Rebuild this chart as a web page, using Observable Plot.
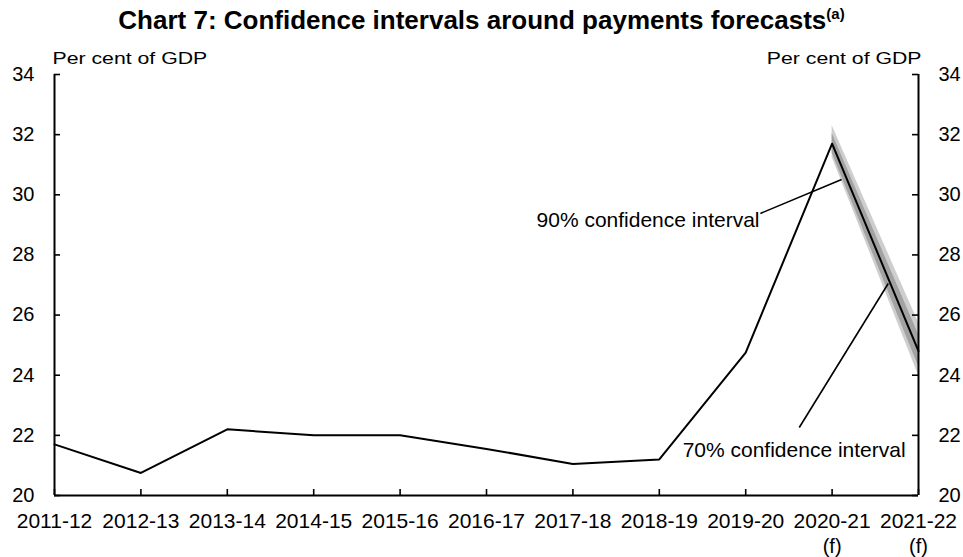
<!DOCTYPE html>
<html><head><meta charset="utf-8">
<script src="https://cdn.jsdelivr.net/npm/d3@7"></script>
<script src="https://cdn.jsdelivr.net/npm/@observablehq/plot@0.6"></script>
<style>
body{margin:0;background:#fff;}
#wrap{position:relative;width:963px;height:557px;font-family:"Liberation Sans",Arial,sans-serif;}
#title{position:absolute;top:0;left:0;width:963px;text-align:center;font-weight:bold;font-size:26px;line-height:26px;padding-top:7px;color:#000;z-index:2;}
#title sup{font-size:15px;line-height:0;vertical-align:10px;}
#wrap svg{position:absolute;top:0;left:0;}
</style></head><body>
<div id="wrap"><div id="title">Chart 7: Confidence intervals around payments forecasts<sup>(a)</sup></div></div>
<script>
const years = ["2011-12","2012-13","2013-14","2014-15","2015-16","2016-17","2017-18","2018-19","2019-20","2020-21","2021-22"];
const forecastFlags = ["","","","","","","","","","(f)","(f)"];
const payments = [21.7, 20.75, 22.2, 22.0, 22.0, 21.55, 21.05, 21.2, 24.75, 31.7, 24.8];
const bandIndex = [9, 10];
const ci90Low = [31.25, 24.0];
const ci90High = [32.3, 25.75];
const ci70Low = [31.4, 24.3];
const ci70High = [32.05, 25.35];
const yTicks = [20, 22, 24, 26, 28, 30, 32, 34];
const unitLabel = "Per cent of GDP";
const label90 = "90% confidence interval";
const label70 = "70% confidence interval";
const label90At = {x: 8.16, y: 29.15};
const label70At = {x: 7.27, y: 21.5};
const leaderX1 = [8.17, 8.62];
const leaderY1 = [29.38, 22.26];
const leaderX2 = [9.11, 9.65];
const leaderY2 = [30.51, 27.05];

const idx = years.map((_, i) => i);
const lineData = payments.map((v, i) => ({i, v}));
const band90 = bandIndex.map((i, k) => ({i, lo: ci90Low[k], hi: ci90High[k]}));
const band70 = bandIndex.map((i, k) => ({i, lo: ci70Low[k], hi: ci70High[k]}));
const leaders = leaderX1.map((x1, k) => ({x1, y1: leaderY1[k], x2: leaderX2[k], y2: leaderY2[k]}));
const flags = idx.filter(i => forecastFlags[i]).map(i => ({i, t: forecastFlags[i]}));

const W = 963, H = 557, mL = 54, mR = 45, mT = 74, mB = 62, tick = 6;
const frameW = W - mL - mR, frameH = H - mT - mB;
const font = "Liberation Sans, Arial, sans-serif";
const chart = Plot.plot({
  width: W,
  height: H,
  marginLeft: mL,
  marginRight: mR,
  marginTop: mT,
  marginBottom: mB,
  style: {fontFamily: font, fontSize: "20px", color: "#000", background: "#fff", overflow: "visible"},
  x: {type: "linear", domain: [0, 10]},
  y: {domain: [20, 34]},
  marks: [
    Plot.areaY(band90, {x: "i", y1: "lo", y2: "hi", fill: "#cecece"}),
    Plot.areaY(band70, {x: "i", y1: "lo", y2: "hi", fill: "#a2a2a2"}),
    Plot.line(lineData, {x: "i", y: "v", stroke: "#000", strokeWidth: 2}),
    Plot.link(leaders, {x1: "x1", y1: "y1", x2: "x2", y2: "y2", stroke: "#000", strokeWidth: 1.6}),
    Plot.text([label90], {x: label90At.x, y: label90At.y, textAnchor: "end", fontSize: 21, fill: "#000"}),
    Plot.text([label70], {x: label70At.x, y: label70At.y, textAnchor: "start", fontSize: 21, fill: "#000"}),
    Plot.ruleY(yTicks, {y: d => d, insetRight: frameW - tick, stroke: "#000", strokeWidth: 1.6}),
    Plot.ruleY(yTicks, {y: d => d, insetLeft: frameW - tick, stroke: "#000", strokeWidth: 1.6}),
    Plot.ruleX(idx, {x: d => d, insetTop: frameH - tick, stroke: "#000", strokeWidth: 1.6}),
    Plot.axisY(yTicks, {anchor: "left", tickSize: 0, tickPadding: 20, label: null, fontSize: 20}),
    Plot.axisY(yTicks, {anchor: "right", tickSize: 0, tickPadding: 20, label: null, fontSize: 20}),
    Plot.axisX(idx, {anchor: "bottom", tickSize: 0, tickPadding: 18, label: null, tickFormat: i => years[i], fontSize: 21}),
    Plot.text(flags, {x: "i", text: "t", frameAnchor: "bottom", lineAnchor: "middle", dy: 51, fontSize: 20, fill: "#000"}),
    Plot.ruleX([0, 10], {stroke: "#000", strokeWidth: 2}),
    Plot.ruleY([20], {stroke: "#000", strokeWidth: 2}),
    Plot.text([unitLabel], {frameAnchor: "top-left", lineAnchor: "middle", dx: -2, dy: -16, textAnchor: "start", fontSize: 17, fill: "#000"}),
    Plot.text([unitLabel], {frameAnchor: "top-right", lineAnchor: "middle", dx: 3, dy: -16, textAnchor: "end", fontSize: 17, fill: "#000"})
  ]
});
document.getElementById("wrap").appendChild(chart);
chart.querySelectorAll("text").forEach(t => {
  if (t.textContent === unitLabel) {
    const w = t.getComputedTextLength();
    t.setAttribute("textLength", (w * 1.25).toFixed(1));
    t.setAttribute("lengthAdjust", "spacingAndGlyphs");
  }
});
</script>
</body></html>
